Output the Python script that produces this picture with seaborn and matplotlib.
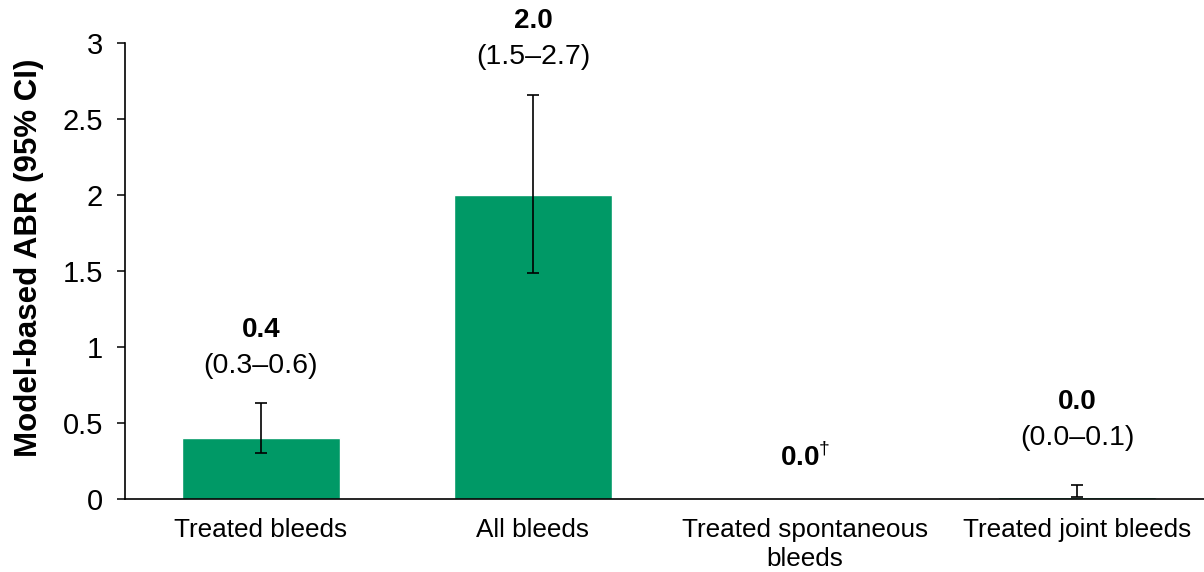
import numpy as np
import pandas as pd
import matplotlib
matplotlib.use("Agg")
import matplotlib.pyplot as plt
import seaborn as sns

# Data
categories = ["Treated bleeds", "All bleeds", "Treated spontaneous\nbleeds", "Treated joint bleeds"]
abr = [0.4, 2.0, 0.0, 0.01]
ci_low = [0.30, 1.49, np.nan, 0.01]
ci_high = [0.63, 2.66, np.nan, 0.09]
value_labels = ["0.4", "2.0", "0.0", "0.0"]
ci_labels = ["(0.3\u20130.6)", "(1.5\u20132.7)", "", "(0.0\u20130.1)"]
footnote_marks = ["", "", "\u2020", ""]

bar_color = "#009966"

sns.set_style("ticks")
plt.rcParams['font.family'] = ['Liberation Sans', 'DejaVu Sans']
plt.rcParams['mathtext.fontset'] = 'custom'
plt.rcParams['mathtext.rm'] = 'Liberation Sans'
plt.rcParams['mathtext.bf'] = 'Liberation Sans:bold'
plt.rcParams['text.color'] = 'black'
plt.rcParams['axes.labelcolor'] = 'black'
plt.rcParams['xtick.color'] = 'black'
plt.rcParams['ytick.color'] = 'black'

df = pd.DataFrame({"category": categories, "abr": abr})

fig = plt.figure(figsize=(12.04, 5.72), dpi=100)
ax = fig.add_axes([0.1038, 0.1276, 0.9037, 0.7972])

sns.barplot(data=df, x="category", y="abr", color=bar_color, saturation=1,
            width=0.583, errorbar=None, ax=ax)

x = np.arange(len(categories))
lo = np.array(ci_low)
hi = np.array(ci_high)
val = np.array(abr)
ok = ~np.isnan(lo)
ax.errorbar(x[ok], val[ok], yerr=[val[ok] - lo[ok], hi[ok] - val[ok]],
            fmt="none", ecolor="black", elinewidth=1.2, capsize=4.5, capthick=1.2)

# value + CI labels above each bar (offsets in points)
extra = [0, 0, 0, 7]
for i in range(len(categories)):
    top = hi[i] if ok[i] else val[i]
    if ci_labels[i]:
        ax.annotate(ci_labels[i], (x[i], top), xytext=(0, 27 + extra[i]),
                    textcoords="offset points", ha="center", va="center",
                    fontsize=20.5)
        ax.annotate(value_labels[i], (x[i], top), xytext=(0, 53 + extra[i]),
                    textcoords="offset points", ha="center", va="center",
                    fontsize=20, fontweight="bold")
    else:
        ax.annotate(value_labels[i] + "$^{" + footnote_marks[i] + "}$", (x[i], top),
                    xytext=(0, 30), textcoords="offset points", ha="center",
                    va="center", fontsize=20, fontweight="bold")

ax.set_ylim(0, 3)
ax.set_xlim(-0.5, len(categories) - 0.5)
ax.set_yticks([0, 0.5, 1, 1.5, 2, 2.5, 3])
ax.set_yticklabels(["0", "0.5", "1", "1.5", "2", "2.5", "3"])
ax.set_xlabel("")
ax.set_ylabel("Model-based ABR (95% CI)", fontsize=22.5, fontweight="bold")
ax.yaxis.set_label_coords(-0.074, 0.53)
ax.tick_params(axis="y", labelsize=21, length=6, width=1.1, pad=10)
ax.tick_params(axis="x", labelsize=18.8, length=0, pad=14)
for lab in ax.get_xticklabels():
    lab.set_linespacing(1.25)
sns.despine(ax=ax)
for s in ["left", "bottom"]:
    ax.spines[s].set_linewidth(1.2)
    ax.spines[s].set_color("black")

fig.savefig("out.png", dpi=100)
